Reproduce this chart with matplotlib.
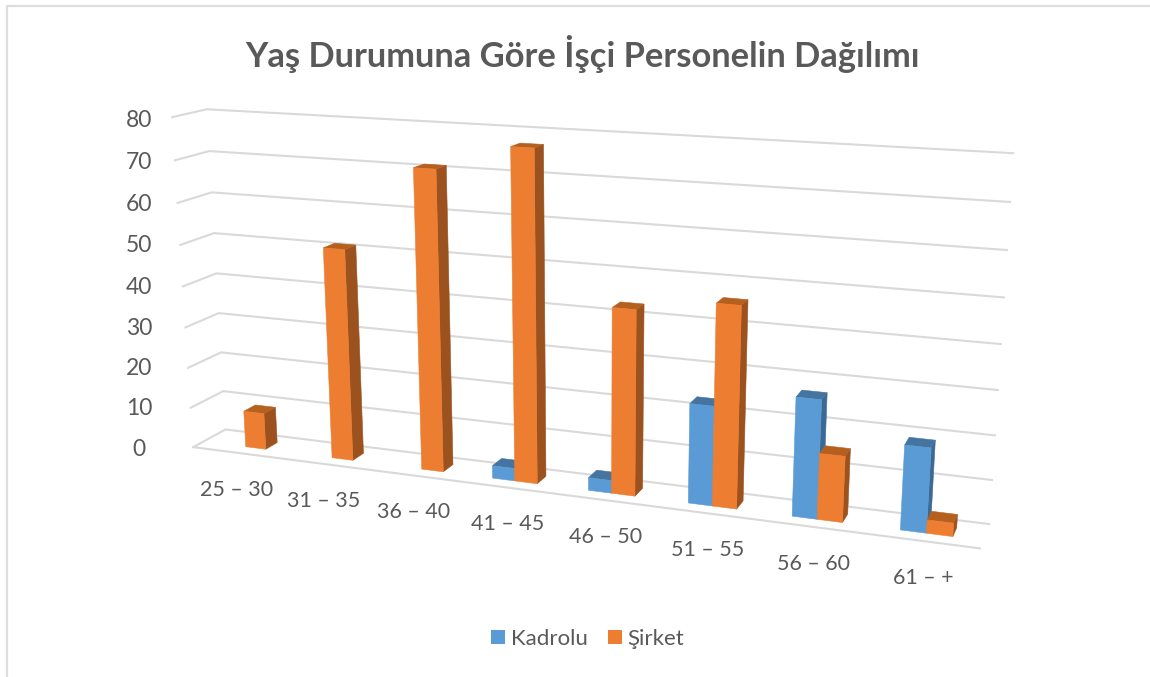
import numpy as np
import matplotlib
matplotlib.use("Agg")
import matplotlib.pyplot as plt
from matplotlib.patches import Polygon, Patch

plt.rcParams['font.family'] = ['Lato', 'DejaVu Sans']

title = "Yaş Durumuna Göre İşçi Personelin Dağılımı"
categories = ["25 – 30", "31 – 35", "36 – 40", "41 – 45", "46 – 50", "51 – 55", "56 – 60", "61 – +"]
kadrolu = [0, 0, 0, 3, 3, 23, 27, 19]
sirket = [9, 51, 71, 77, 43, 46, 15, 3]
value_ticks = [0, 10, 20, 30, 40, 50, 60, 70, 80]

GRID = "#D9D9D9"
TEXT = "#595959"
FACES = {
    "Kadrolu": ("#5B9BD5", "#3B6A95", "#44749F"),
    "Şirket": ("#ED7D31", "#9C521F", "#B5601F"),
}

# Camera of the 3D box: (category pos, depth, value) -> picture pixel
calib = [
    (0, 0, 0, 193, 447), (0, 1, 0, 226, 429), (0, 1, 10, 223, 392), (0, 1, 20, 221, 352),
    (0, 1, 70, 209, 151), (0, 1, 80, 207, 109), (0, 0, 70, 175, 161), (0, 0, 80, 172, 117),
    (8, 1, 0, 989, 524), (8, 0, 0, 980, 548), (8, 1, 10, 992, 480), (8, 1, 20, 995, 436),
    (8, 1, 30, 998, 390), (8, 1, 80, 1013, 153),
]
A, b = [], []
for X, Y, Z, u, v in calib:
    A.append([X, Y, Z, 1, 0, 0, 0, 0, -u * X, -u * Y, -u * Z]); b.append(u)
    A.append([0, 0, 0, 0, X, Y, Z, 1, -v * X, -v * Y, -v * Z]); b.append(v)
P = np.append(np.linalg.lstsq(np.array(A, float), np.array(b, float), rcond=None)[0], 1).reshape(3, 4)


def proj(x, d, z):
    h = P @ np.array([x, d, z, 1.0])
    return h[0] / h[2], h[1] / h[2]


fig = plt.figure(figsize=(11.5, 6.77), dpi=100)
ax = fig.add_axes([0, 0, 1, 1])
ax.set_xlim(0, 1150)
ax.set_ylim(677, 0)
ax.axis("off")

# chart frame (left and top edges only)
ax.plot([6.5, 6.5, 1150], [677, 5.5, 5.5], color="#DDDDDD", lw=1.6, zorder=1)

# gridlines
for val in value_ticks:
    pts = [proj(0, 0, val), proj(0, 1, val), proj(8, 1, val)]
    ax.plot(*zip(*pts), color=GRID, lw=1.5, zorder=2, solid_joinstyle="miter")
ax.plot(*zip(proj(0, 0, 0), proj(8, 0, 0)), color=GRID, lw=1.5, zorder=2)

# value labels
label_y = [449.5, 408.5, 368.5, 328.5, 287.5, 245.5, 204.5, 162.5, 120.5]
for val, yy in zip(value_ticks, label_y):
    ax.text(139, yy, str(val), ha="center", va="center", fontsize=16.5, color=TEXT)

# bars
BAR_W = 0.235
D0, D1 = 0.32, 0.69
z = 3
for i in range(len(categories)):
    centre = i + 0.5
    for name, vals, x0 in (("Kadrolu", kadrolu, centre - BAR_W), ("Şirket", sirket, centre)):
        v = vals[i]
        if v <= 0:
            continue
        x1 = x0 + BAR_W
        front, side, top = FACES[name]
        polys = [
            ([proj(x1, D0, 0), proj(x1, D1, 0), proj(x1, D1, v), proj(x1, D0, v)], side),
            ([proj(x0, D0, v), proj(x1, D0, v), proj(x1, D1, v), proj(x0, D1, v)], top),
            ([proj(x0, D0, 0), proj(x1, D0, 0), proj(x1, D0, v), proj(x0, D0, v)], front),
        ]
        for pts, col in polys:
            ax.add_patch(Polygon(pts, closed=True, facecolor=col, edgecolor=col, lw=0.4, zorder=z))
            z += 0.01

# category labels
for i, lab in enumerate(categories):
    px, py = proj(i + 0.5, 0, 0)
    ax.text(px + 1, py + 37, lab, ha="center", va="center", fontsize=15.5, color=TEXT)

ax.text(582, 54, title, ha="center", va="center", fontsize=24.8, fontweight="bold", color=TEXT)

handles = [Patch(facecolor=FACES["Kadrolu"][0], label="Kadrolu"), Patch(facecolor=FACES["Şirket"][0], label="Şirket")]
leg = ax.legend(handles=handles, loc="center", bbox_to_anchor=(587.5, 639), bbox_transform=ax.transData,
                ncol=2, frameon=False, fontsize=16, labelcolor=TEXT, handlelength=0.63, handleheight=0.63,
                handletextpad=0.27, columnspacing=0.9, borderpad=0)

fig.savefig("out.png", dpi=100)
